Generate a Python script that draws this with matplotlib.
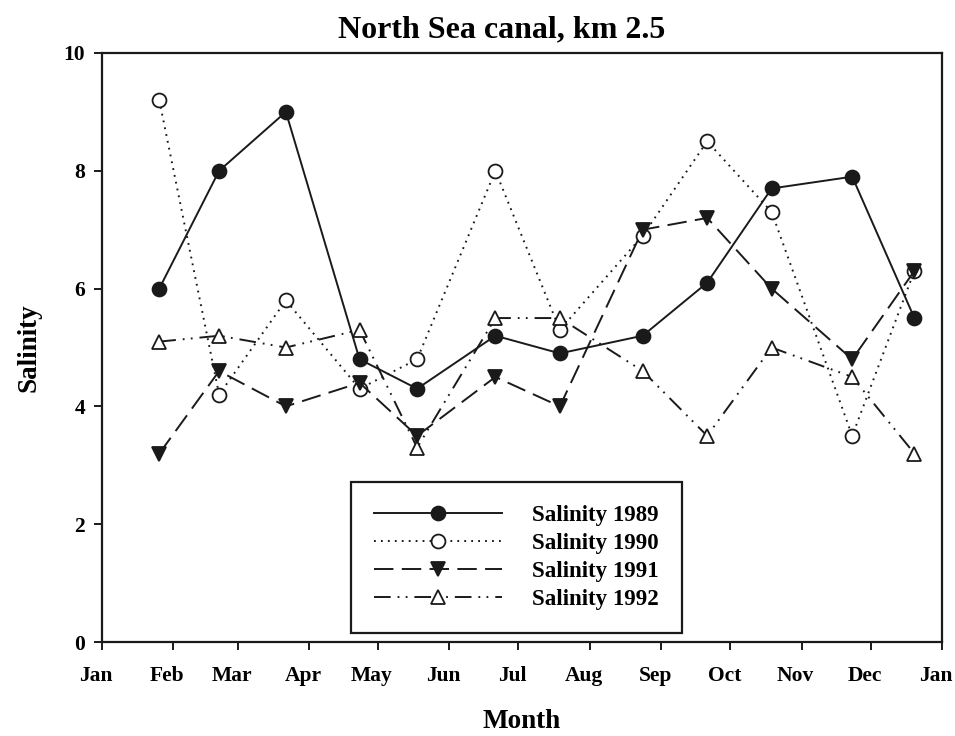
import matplotlib
matplotlib.use("Agg")
import matplotlib.pyplot as plt
import matplotlib.dates as mdates
import matplotlib.transforms as mtransforms
from datetime import datetime

# Sampling dates (one per month) and salinity per year
sample_dates = ["1989-01-26", "1989-02-21", "1989-03-22", "1989-04-23",
                "1989-05-18", "1989-06-21", "1989-07-19", "1989-08-24",
                "1989-09-21", "1989-10-19", "1989-11-23", "1989-12-20"]
salinity_1989 = [6.0, 8.0, 9.0, 4.8, 4.3, 5.2, 4.9, 5.2, 6.1, 7.7, 7.9, 5.5]
salinity_1990 = [9.2, 4.2, 5.8, 4.3, 4.8, 8.0, 5.3, 6.9, 8.5, 7.3, 3.5, 6.3]
salinity_1991 = [3.2, 4.6, 4.0, 4.4, 3.5, 4.5, 4.0, 7.0, 7.2, 6.0, 4.8, 6.3]
salinity_1992 = [5.1, 5.2, 5.0, 5.3, 3.3, 5.5, 5.5, 4.6, 3.5, 5.0, 4.5, 3.2]
series_labels = ["Salinity 1989", "Salinity 1990", "Salinity 1991", "Salinity 1992"]

plt.rcParams["font.family"] = ["Liberation Serif", "DejaVu Serif"]
plt.rcParams["font.weight"] = "bold"
plt.rcParams["lines.scale_dashes"] = False

dates = [datetime.strptime(d, "%Y-%m-%d") for d in sample_dates]

fig = plt.figure(figsize=(9.55, 7.36), dpi=100)
ax = fig.add_axes([0.1065, 0.1277, 0.8799, 0.8003])

ink = "#1a1a1a"
lw = 1.4
styles = [
    dict(linestyle="-", marker="o", markerfacecolor=ink),
    dict(linestyle=(0, (1.3, 3.7)), marker="o", markerfacecolor="white"),
    dict(linestyle=(0, (14, 6)), marker="v", markerfacecolor=ink),
    dict(linestyle=(0, (12, 5, 1.3, 4.5, 1.3, 5)), marker="^", markerfacecolor="white"),
]
series = [salinity_1989, salinity_1990, salinity_1991, salinity_1992]

for vals, lab, st in zip(series, series_labels, styles):
    ax.plot(dates, vals, color=ink, linewidth=lw, markersize=10,
            markeredgecolor=ink, markeredgewidth=1.3, label=lab, **st)

ax.set_xlim(datetime(1989, 1, 1), datetime(1990, 1, 1))
ax.set_ylim(0, 10)
ax.xaxis.set_major_locator(mdates.MonthLocator())
ax.xaxis.set_major_formatter(mdates.DateFormatter("%b"))
ax.set_yticks([0, 2, 4, 6, 8, 10])

for sp in ax.spines.values():
    sp.set_linewidth(1.6)
    sp.set_color(ink)
ax.tick_params(axis="both", direction="out", length=6, width=1.4, color=ink,
               labelsize=15.5)
ax.tick_params(axis="x", pad=11)
ax.tick_params(axis="y", pad=6)

# month names sit slightly left of their ticks
shift = mtransforms.ScaledTranslation(-6 / 100, 0, fig.dpi_scale_trans)
for lbl in ax.get_xticklabels():
    lbl.set_transform(lbl.get_transform() + shift)

fig.text(502 / 955, 1 - 30 / 736, "North Sea canal, km 2.5", fontsize=23,
         fontweight="bold", ha="center", va="center")
ax.set_xlabel("Month", fontsize=19.5, fontweight="bold", labelpad=17)
ax.set_ylabel("Salinity", fontsize=19.5, fontweight="bold", labelpad=16)

leg = ax.legend(loc="lower left", bbox_to_anchor=(0.2967, 0.0153),
                borderaxespad=0, fontsize=16.5, handlelength=5.6,
                handletextpad=1.3, labelspacing=0.3, borderpad=1.0,
                fancybox=False, framealpha=1, edgecolor=ink)
leg.get_frame().set_linewidth(1.6)

fig.savefig("out.png", dpi=100)
